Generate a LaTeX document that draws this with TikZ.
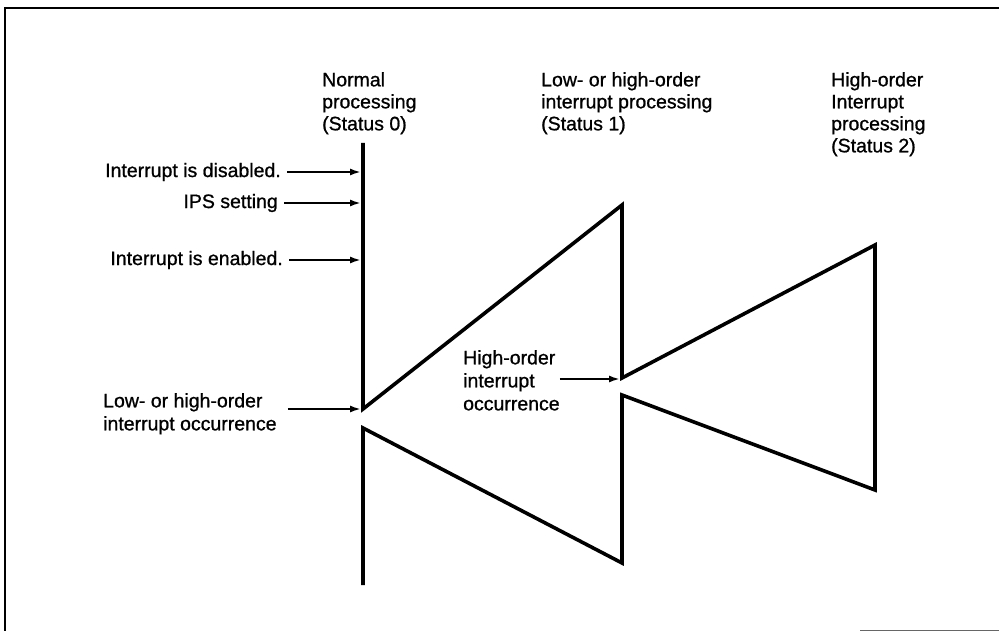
\documentclass[tikz,border=0pt]{standalone}
\usepackage{fontspec}
\setmainfont{Liberation Sans}[FakeBold=0.9]
\usetikzlibrary{arrows.meta,positioning}

\begin{document}
\begin{tikzpicture}[x=1pt,y=-1pt,
          node distance=80pt,
          note/.style={font=\fontsize{19.5}{22}\selectfont,inner sep=0pt,align=left},
          cue/.style={-{Latex[length=11pt,width=7pt]},line width=2pt,shorten <=6pt},
          trace/.style={line width=3.6pt,line join=miter}]
        \useasboundingbox (0,0) rectangle (999,631);
        % frame
        \draw[line width=2.6pt] (5,631) -- (5,8) -- (999,8);
        \draw[line width=1pt,black!60] (860,630) -- (999,630);
        % status columns
        \node[note,anchor=north west] (st0) at (322,72) {Normal\\processing\\(Status 0)};
        \node[note,anchor=north west] (st1) at (541,72) {Low- or high-order\\interrupt processing\\(Status 1)};
        \node[note,anchor=north west] (st2) at (831,72) {High-order\\Interrupt\\processing\\(Status 2)};
        % sawtooth corners
        \coordinate (s0top) at (363,143);
        \coordinate (s0hit) at (363,409);
        \coordinate (s1top) at (622,205);
        \coordinate (s1hit) at (622,378);
        \coordinate (s2top) at (875,245);
        \coordinate (s2bot) at (875,490);
        \coordinate (s1ret) at (622,395);
        \coordinate (s1bot) at (622,563);
        \coordinate (s0ret) at (363,428);
        \coordinate (s0end) at (363,585);
        \draw[trace] (s0top) -- (s0hit) -- (s1top) -- (s1hit) -- (s2top) -- (s2bot)
          -- (s1ret) -- (s1bot) -- (s0ret) -- (s0end);
        % events
        \coordinate (tdis) at (361,172);
        \coordinate (tips) at (361,203);
        \coordinate (tena) at (361,260);
        \coordinate (tocc0) at (361,409);
        \coordinate (tocc1) at (620,379);
        \node[note,left=80pt of tdis] (dis) {Interrupt is disabled.};
        \node[note,left=83pt of tips] (ips) {IPS setting};
        \node[note,left=78pt of tena] (ena) {Interrupt is enabled.};
        \node[note,font=\fontsize{19.5}{23}\selectfont,anchor=north west] (occ0) at (103,393)
          {Low- or high-order\\interrupt occurrence};
        \node[note,font=\fontsize{19.5}{23}\selectfont,anchor=north west] (occ1) at (463,350)
          {High-order\\interrupt\\occurrence};
        \draw[cue] (dis) -- (tdis);
        \draw[cue] (ips) -- (tips);
        \draw[cue] (ena) -- (tena);
        \draw[cue,shorten <=11pt] (occ0.east |- tocc0) -- (tocc0);
        \draw[cue,shorten <=0pt] (occ1.east |- tocc1) -- (tocc1);
      \end{tikzpicture}
\end{document}
